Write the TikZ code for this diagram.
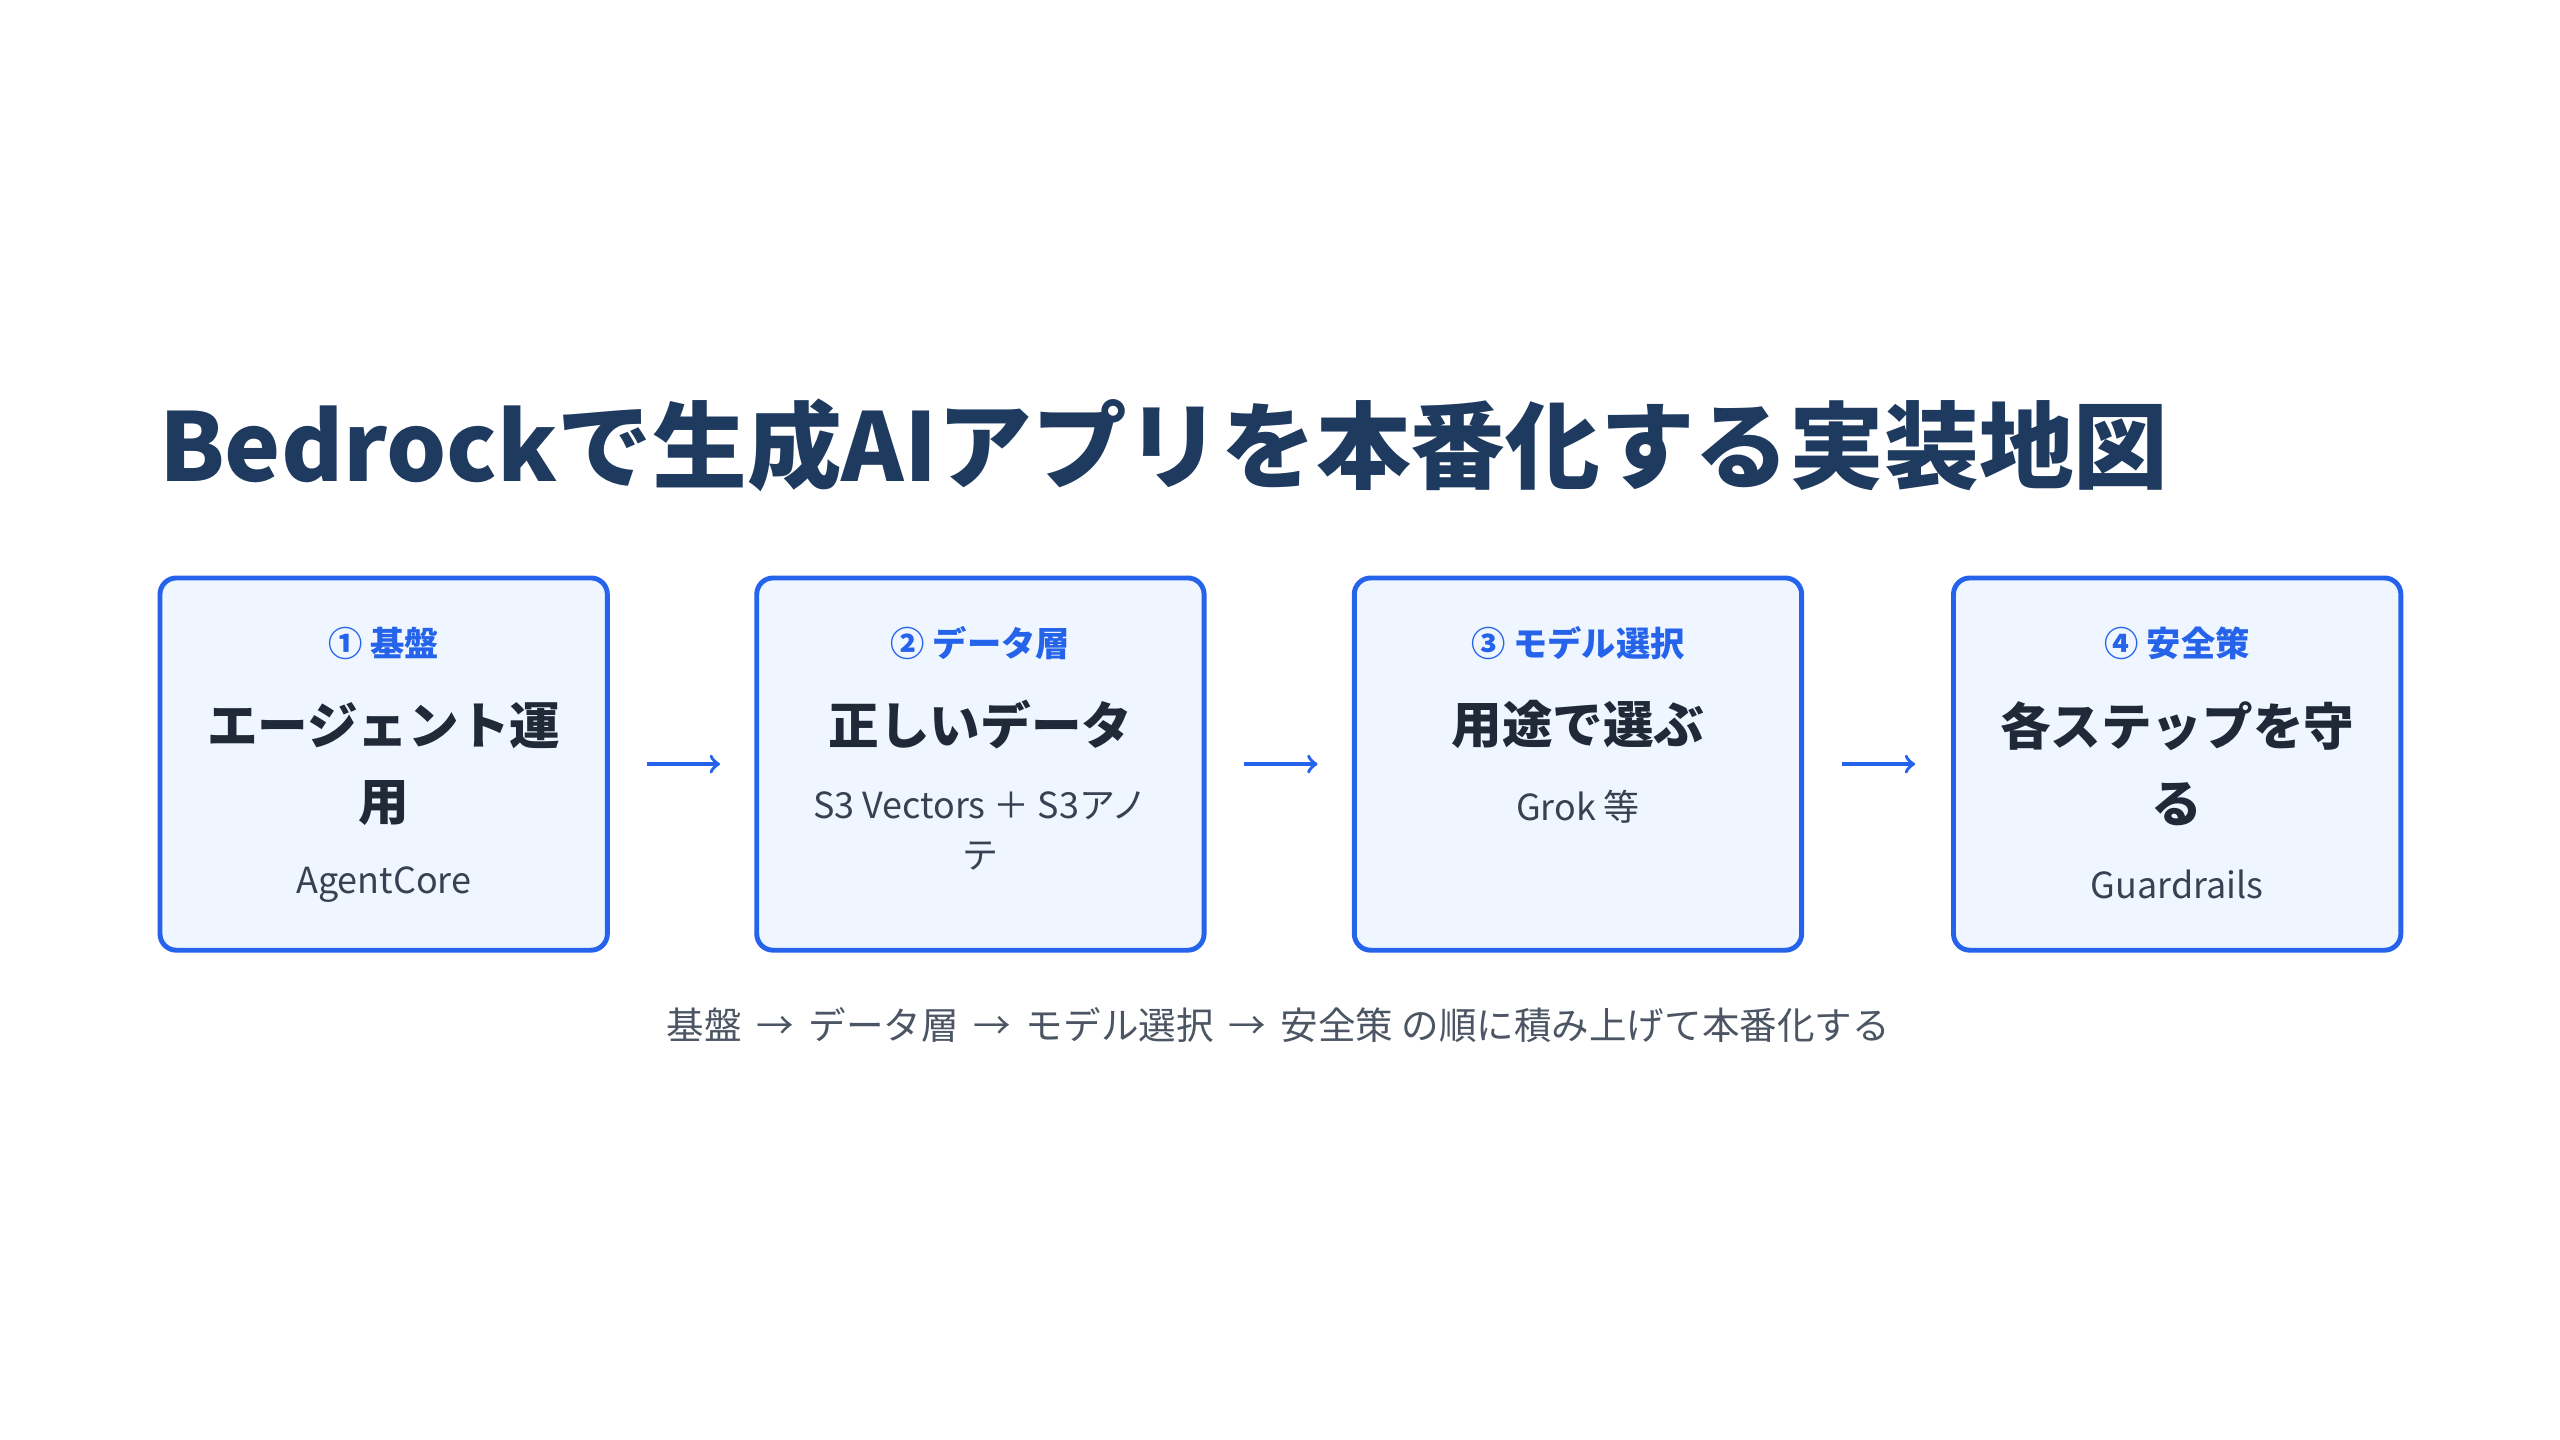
\documentclass[tikz,border=0pt]{standalone}
\usepackage{fontspec}
\setmainfont{Noto Sans CJK JP}
\usepackage{xcolor}
\definecolor{TitleNavy}{HTML}{1E3A5F}
\definecolor{StepBlue}{HTML}{2563EB}
\definecolor{StepFill}{HTML}{EFF6FF}
\definecolor{MainText}{HTML}{1F2937}
\definecolor{SubText}{HTML}{374151}
\definecolor{NoteText}{HTML}{4B5563}
\usetikzlibrary{positioning}

\tikzset{
    step box/.style={draw=StepBlue, line width=1.5pt, fill=StepFill,
        rounded corners=5pt, minimum width=137pt, minimum height=114pt},
    step head/.style={text=StepBlue, font=\fontsize{10.5}{12}\selectfont\bfseries},
    step main/.style={text=MainText, font=\fontsize{15.5}{23.5}\selectfont\bfseries, align=center},
    step sub/.style={text=SubText, font=\fontsize{11}{15.5}\selectfont, align=center},
    step arrow/.style={draw=StepBlue, line width=1.1pt, ->}
}

\begin{document}
\begin{tikzpicture}[x=0.5pt, y=-0.5pt]

\useasboundingbox[fill=white] (0,0) rectangle (1568,882);

\node[anchor=base west, inner sep=0pt, text=TitleNavy, font=\fontsize{29}{34}\selectfont\bfseries]
    (title) at (97,295) {Bedrockで生成AIアプリを本番化する実装地図};

% step boxes
\node[step box] (boxA) at (235,468) {};
\node[step box] (boxB) at (600.5,468) {};
\node[step box] (boxC) at (966.5,468) {};
\node[step box] (boxD) at (1333.5,468) {};

\node[step head] (headA) at (235,394) {① 基盤};
\node[step head] (headB) at (600.5,394) {② データ層};
\node[step head] (headC) at (966.5,394) {③ モデル選択};
\node[step head] (headD) at (1333.5,394) {④ 安全策};

\node[step main] (mainA) at (235,468) {エージェント運\\用};
\node[step main] (mainB) at (600.5,444) {正しいデータ};
\node[step main] (mainC) at (966.5,444) {用途で選ぶ};
\node[step main] (mainD) at (1333.5,468) {各ステップを守\\る};

\node[step sub] (subA) at (235,542) {AgentCore};
\node[step sub] (subB) at (600.5,509) {S3 Vectors ＋ S3アノ\\テ};
\node[step sub] (subC) at (966.5,494) {Grok 等};
\node[step sub] (subD) at (1333.5,542) {Guardrails};

% arrows between steps
\coordinate (arrA1) at (396,468); \coordinate (arrA2) at (441,468);
\coordinate (arrB1) at (762,468); \coordinate (arrB2) at (807,468);
\coordinate (arrC1) at (1128,468); \coordinate (arrC2) at (1173,468);
\draw[step arrow] (arrA1) -- (arrA2);
\draw[step arrow] (arrB1) -- (arrB2);
\draw[step arrow] (arrC1) -- (arrC2);

\node[text=NoteText, font=\fontsize{11.5}{13}\selectfont] (note) at (783,628)
    {基盤 \,→\, データ層 \,→\, モデル選択 \,→\, 安全策 の順に積み上げて本番化する};

\end{tikzpicture}
\end{document}
